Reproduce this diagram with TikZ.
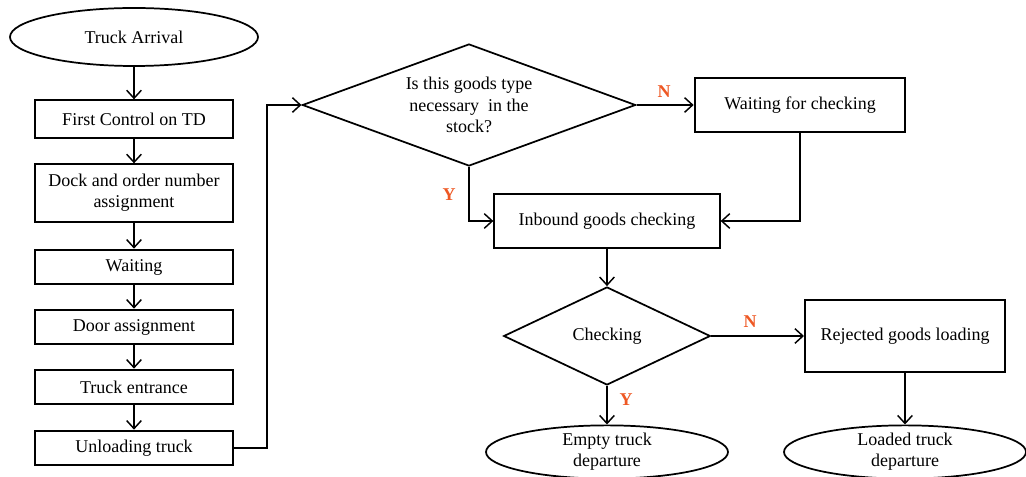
\documentclass[tikz,border=0pt]{standalone}
\usepackage{fontspec}
\setmainfont{Liberation Serif}
\usetikzlibrary{shapes.geometric,arrows.meta}

\definecolor{yesno}{RGB}{238,88,36}

\tikzset{
  every node/.style={font=\fontsize{13.5}{16}\selectfont, align=center},
  procbox/.style={draw, line width=1.5pt, rectangle, inner sep=2pt},
  termbox/.style={draw, line width=1.3pt, ellipse, inner sep=0pt},
  decbox/.style={draw, line width=1.3pt, diamond, inner sep=0pt},
  flow/.style={line width=1.1pt, -{Straight Barb[length=6pt,width=11pt]}},
  answer/.style={text=yesno, font=\fontsize{13.5}{16}\selectfont\bfseries}
}

\begin{document}
\begin{tikzpicture}[x=0.75pt,y=-0.75pt]
  \useasboundingbox (0,0) rectangle (1026,477);

  % Left column
  \node[termbox, minimum width=186pt, minimum height=43.5pt] (arrival) at (134,37) {Truck Arrival};
  \node[procbox, minimum width=148.5pt, minimum height=28pt] (control) at (134,119) {First Control on TD};
  \node[procbox, minimum width=148.5pt, minimum height=43pt] (dock) at (134,193) {Dock and order number\\assignment};
  \node[procbox, minimum width=148.5pt, minimum height=26pt] (waiting) at (134,267) {Waiting};
  \node[procbox, minimum width=148.5pt, minimum height=26pt] (door) at (134,327) {Door assignment};
  \node[procbox, minimum width=148.5pt, minimum height=26pt] (entrance) at (134,387) {Truck entrance};
  \node[procbox, minimum width=148.5pt, minimum height=26pt] (unload) at (134,448) {Unloading truck};

  % Stock decision
  \node[decbox, minimum width=250pt, minimum height=91.5pt, aspect=2.73] (stock) at (469,105)
    {Is this goods type\\necessary~ in the\\stock?};
  \node[procbox, minimum width=158pt, minimum height=40pt] (waitcheck) at (800,105) {Waiting for checking};
  \node[procbox, minimum width=169pt, minimum height=40.5pt] (inbound) at (607,221) {Inbound goods checking};

  % Checking decision
  \node[decbox, minimum width=155pt, minimum height=73.5pt, aspect=2.1] (check) at (607,336) {Checking};
  \node[procbox, minimum width=150pt, minimum height=54pt] (reject) at (905,336) {Rejected goods loading};
  \node[termbox, minimum width=181.5pt, minimum height=37.5pt] (empty) at (607,452) {Empty truck\\departure};
  \node[termbox, minimum width=181.5pt, minimum height=37.5pt] (loaded) at (905,452) {Loaded truck\\departure};

  % Answers
  \node[answer] (stockno) at (664,92) {N};
  \node[answer] (stockyes) at (449,195) {Y};
  \node[answer] (checkno) at (750,322) {N};
  \node[answer] (checkyes) at (626,400) {Y};

  % Connectors
  \draw[flow] (arrival) -- (control);
  \draw[flow] (control) -- (dock);
  \draw[flow] (dock) -- (waiting);
  \draw[flow] (waiting) -- (door);
  \draw[flow] (door) -- (entrance);
  \draw[flow] (entrance) -- (unload);
  \draw[flow] (unload.east) -- ++(33,0) |- (stock.west);
  \draw[flow] (stock.east) -- (waitcheck.west);
  \draw[flow] (stock.south) |- (inbound.west);
  \draw[flow] (waitcheck.south) |- (inbound.east);
  \draw[flow] (inbound) -- (check);
  \draw[flow] (check.east) -- (reject.west);
  \draw[flow] (check.south) -- (empty.north);
  \draw[flow] (reject.south) -- (loaded.north);
\end{tikzpicture}
\end{document}
